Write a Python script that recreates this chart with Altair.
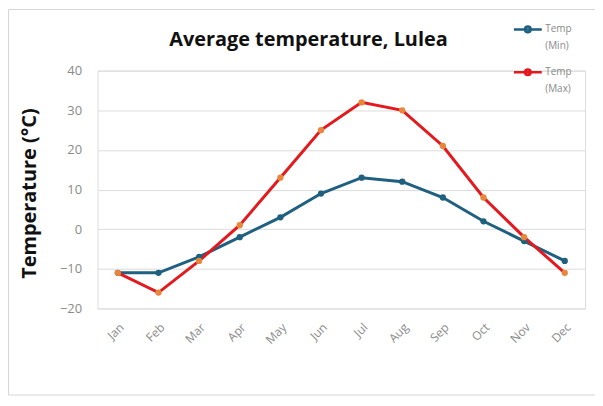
import altair as alt
import pandas as pd

months = ["Jan", "Feb", "Mar", "Apr", "May", "Jun", "Jul", "Aug", "Sep", "Oct", "Nov", "Dec"]
temp_min = [-11, -11, -7, -2, 3, 9, 13, 12, 8, 2, -3, -8]
temp_max = [-11, -16, -8, 1, 13, 25, 32, 30, 21, 8, -2, -11]
series_names = ["Temp (Min)", "Temp (Max)"]
line_colors = ["#1f5f80", "#e5191d"]
marker_colors = ["#1f5f80", "#e8873a"]
y_ticks = [-20, -10, 0, 10, 20, 30, 40]

rows = []
for m, v in zip(months, temp_min):
    rows.append({"month": m, "series": series_names[0], "temp": v})
for m, v in zip(months, temp_max):
    rows.append({"month": m, "series": series_names[1], "temp": v})
df = pd.DataFrame(rows)

W, H = 490, 239
FONT = "Open Sans"
GRAY = "#8a8a8a"

x_enc = alt.X("month:N", sort=months,
              scale=alt.Scale(type="point", padding=0.5),
              axis=alt.Axis(title=None, grid=False, domain=False, ticks=False,
                            labelAngle=-45, labelColor=GRAY, labelFontSize=12,
                            labelFont=FONT, labelPadding=13))
y_enc = alt.Y("temp:Q", scale=alt.Scale(domain=[-20, 40], nice=False, zero=False),
              axis=alt.Axis(title="Temperature (°C)", values=y_ticks, grid=True,
                            gridColor="#dcdcdc", gridWidth=1, domain=False, ticks=False,
                            labelColor=GRAY, labelFontSize=13, labelFont=FONT,
                            labelPadding=16, titleFont=FONT, titleFontSize=20,
                            titleFontWeight="bold", titleColor="#111111",
                            titleAngle=-90, titleX=-68, titleY=123,
                            titleAlign="center", titleBaseline="middle"))

frame = alt.Chart(pd.DataFrame({"a": [0]})).mark_rect(
    fill="transparent", stroke="#d6d6d6", strokeWidth=1
).encode(x=alt.value(-89.5), x2=alt.value(W + 40), y=alt.value(-61.5), y2=alt.value(H + 87))

lines = alt.Chart(df).mark_line(strokeWidth=3).encode(
    x=x_enc, y=y_enc,
    color=alt.Color("series:N", sort=series_names,
                    scale=alt.Scale(domain=series_names, range=line_colors),
                    legend=alt.Legend(
                        title=None, orient="none", legendX=417, legendY=-57,
                        symbolType="M-1,0H1M-0.2,0A0.2,0.2,0,1,0,0.2,0A0.2,0.2,0,1,0,-0.2,0Z",
                        symbolSize=784, symbolStrokeWidth=2.5,
                        labelFontSize=10, labelColor=GRAY, labelFont=FONT,
                        labelOffset=2, padding=0, rowPadding=5,
                        labelBaseline="middle",
                        labelExpr="['Temp', datum.label == 'Temp (Min)' ? '(Min)' : '(Max)']")),
    order=alt.Order("month_idx:Q")
).transform_calculate(month_idx="indexof(" + str(months) + ", datum.month)")

points = alt.Chart(df).mark_point(filled=True, size=40, opacity=1).encode(
    x=x_enc, y=y_enc,
    fill=alt.Fill("series:N", scale=alt.Scale(domain=series_names, range=marker_colors),
                  legend=None)
)

chart = alt.layer(frame, lines, points).properties(
    width=W, height=H,
    title=alt.TitleParams("Average temperature, Lulea", font=FONT, fontSize=20,
                          fontWeight="bold", color="#111111", anchor="middle",
                          baseline="alphabetic", dx=-33, dy=57, offset=0),
    autosize=alt.AutoSizeParams(type="none"),
    padding={"left": 90, "top": 62, "right": 10, "bottom": 92},
).resolve_scale(color="independent").configure_view(stroke=None).configure(
    style={"guide-label": {"lineHeight": 17}}
)

chart.save("out.html", embed_options={"renderer": "svg", "actions": False})
